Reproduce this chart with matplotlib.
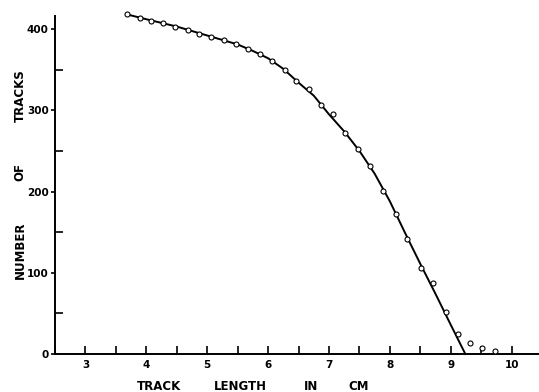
import matplotlib
matplotlib.use('Agg')
import matplotlib.pyplot as plt
from matplotlib.ticker import MultipleLocator

# Measured points (track length in cm, number of tracks)
lengths = [3.68, 3.89, 4.08, 4.27, 4.47, 4.68, 4.87, 5.07, 5.27, 5.48, 5.67,
           5.87, 6.06, 6.27, 6.46, 6.67, 6.87, 7.07, 7.27, 7.48, 7.68, 7.89,
           8.10, 8.29, 8.51, 8.71, 8.92, 9.12, 9.31, 9.52, 9.72]
tracks = [418, 414, 410, 407, 403, 399, 394, 390, 386, 381, 375,
          369, 361, 350, 336, 326, 307, 296, 272, 252, 232, 201,
          172, 142, 106, 87, 52, 25, 13, 7, 4]

# Hand-drawn smooth curve through the points
curve_x = [3.68, 4.0, 4.5, 5.0, 5.5, 5.75, 6.0, 6.25, 6.5, 6.75, 7.0,
           7.25, 7.5, 7.75, 8.0, 8.25, 8.5, 8.75, 9.0, 9.24]
curve_y = [418, 412, 403, 392, 381, 373, 364, 351, 334, 318, 295,
           274, 250, 222, 188, 149, 111, 74, 36, 0]

xlabel_words = ['TRACK', 'LENGTH', 'IN', 'CM']
ylabel_words = ['NUMBER', 'OF', 'TRACKS']

W, H = 539, 392
fig = plt.figure(figsize=(W / 100, H / 100), dpi=100)
ax = fig.add_axes([55/W, 38/H, 484/W, 338/H])

ax.plot(curve_x, curve_y, color='black', linewidth=1.4, clip_on=False, zorder=2)
ax.plot(lengths, tracks, linestyle='none', marker='o', markersize=3.6,
        markerfacecolor='white', markeredgecolor='black', markeredgewidth=0.8,
        clip_on=False, zorder=3)

ax.set_xlim(2.5, 10.45)
ax.set_ylim(0, 416)

for s in ['top', 'right']:
    ax.spines[s].set_visible(False)
for s in ['left', 'bottom']:
    ax.spines[s].set_linewidth(1.4)

ax.xaxis.set_major_locator(MultipleLocator(1))
ax.xaxis.set_minor_locator(MultipleLocator(0.5))
ax.yaxis.set_major_locator(MultipleLocator(100))
ax.yaxis.set_minor_locator(MultipleLocator(50))

ax.tick_params(axis='x', which='both', direction='in', length=6, width=1.2,
               pad=4, labelsize=7.5)
ax.tick_params(axis='y', which='major', direction='out', length=3, width=1.2,
               pad=1.5, labelsize=7.5)
ax.tick_params(axis='y', which='minor', direction='in', length=6, width=1.2)
ax.set_xticks([3, 4, 5, 6, 7, 8, 9, 10])
ax.set_xticklabels(['3', '4', '5', '6', '7', '8', '9', '10'])
for lab in ax.get_xticklabels() + ax.get_yticklabels():
    lab.set_fontweight('bold')

# Axis titles, word by word (wide lettering as in the original)
for word, xc in zip(xlabel_words, [159, 240, 311, 359]):
    fig.text(xc / W, 1 - 387 / H, word, ha='center', va='center',
             fontsize=8.5, fontweight='bold')
for word, yc in zip(ylabel_words, [250, 172, 96]):
    fig.text(20 / W, 1 - yc / H, word, ha='center', va='center',
             rotation=90, fontsize=8.5, fontweight='bold')

fig.savefig('out.png', dpi=100)
